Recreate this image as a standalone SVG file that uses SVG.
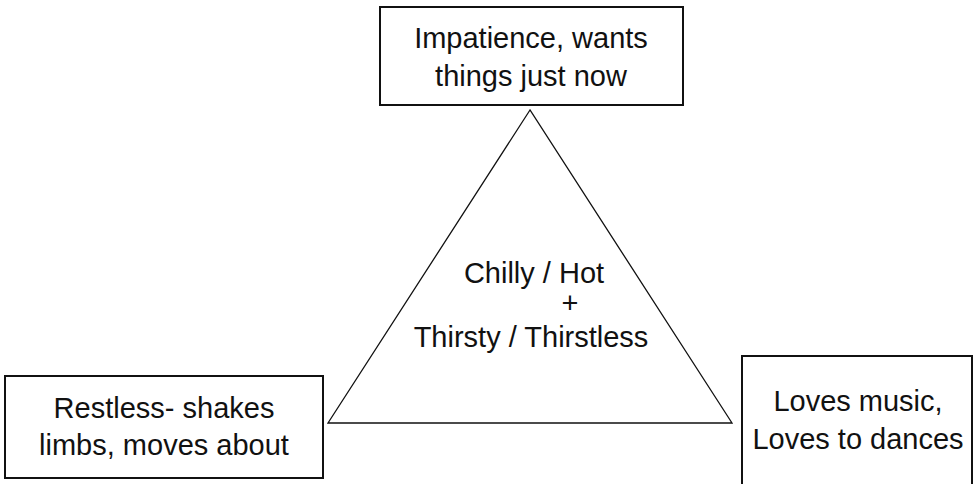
<svg xmlns="http://www.w3.org/2000/svg" width="978" height="484" viewBox="0 0 978 484">
<style>
.box{fill:#fff;stroke:#111;stroke-width:2}
.tri{fill:none;stroke:#111;stroke-width:1.3}
text{font-family:"Liberation Sans",Arial,sans-serif;font-size:29px;fill:#111;text-anchor:middle}
</style>
<rect width="978" height="484" fill="#fff"/>
<g id="connectors">
<polygon class="tri" points="530,110 328,423 732,423"/>
</g>
<g id="center">
<text x="534" y="283">Chilly / Hot</text>
<text x="570" y="313">+</text>
<text x="531" y="347">Thirsty / Thirstless</text>
</g>
<g id="top">
<rect class="box" x="380" y="7" width="303" height="98"/>
<text x="531" y="48">Impatience, wants</text>
<text x="531" y="86">things just now</text>
</g>
<g id="left">
<rect class="box" x="5" y="376" width="318" height="102"/>
<text x="164" y="418">Restless- shakes</text>
<text x="164" y="455">limbs, moves about</text>
</g>
<g id="right">
<rect class="box" x="742" y="356" width="230" height="140"/>
<text x="858" y="411">Loves music,</text>
<text x="858" y="449">Loves to dances</text>
</g>
</svg>
